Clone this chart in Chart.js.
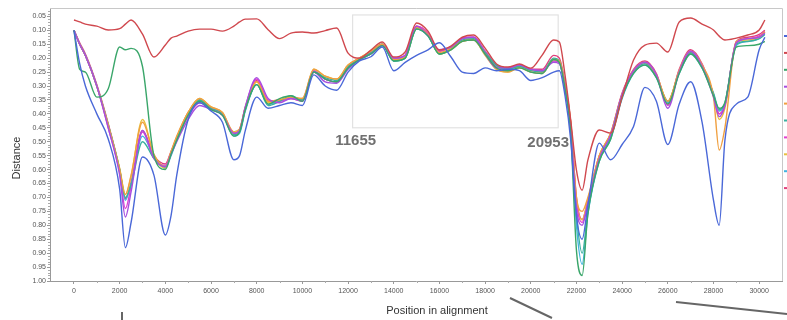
<!DOCTYPE html>
<html>
<head>
<meta charset="utf-8">
<script src="https://cdn.jsdelivr.net/npm/chart.js@4/dist/chart.umd.min.js"></script>
<style>
  body { margin: 0; background: #fff; }
  canvas { display: block; }
</style>
</head>
<body>
<canvas id="myChart" width="787" height="320"></canvas>
<script>
// positions along the alignment (x values shared by all series)
const positions = [0, 250, 500, 1000, 1500, 2000, 2250, 2500, 3000, 3500, 4000, 4250, 4500, 5000, 5500, 6000, 6500, 7000, 7250, 7500,
  8000, 8500, 9000, 9500, 10000, 10500, 11000, 11500, 12000, 12500, 13000, 13500, 14000, 14500, 15000, 15500, 16000, 16500, 17000, 17500,
  18000, 18500, 19000, 19500, 20000, 20500, 21000, 21250, 21500, 21750, 22000, 22250, 22500, 23000, 23500, 24000, 24500, 25000, 25500, 26000,
  26500, 27000, 27500, 28000, 28250, 28500, 29000, 29500, 30000, 30250];

const xTicks = [0, 2000, 4000, 6000, 8000, 10000, 12000, 14000, 16000, 18000, 20000, 22000, 24000, 26000, 28000, 30000];
const yTicks = [0.05, 0.10, 0.15, 0.20, 0.25, 0.30, 0.35, 0.40, 0.45, 0.50, 0.55, 0.60, 0.65, 0.70, 0.75, 0.80, 0.85, 0.90, 0.95, 1.00];

const seriesNames = ['blue', 'red', 'green', 'purple', 'orange', 'teal', 'magenta', 'yellow', 'cyan', 'pink'];
const seriesColors = ['#4a68d8', '#d0484e', '#3aa66a', '#a64ee0', '#f0a040', '#3ab0a0', '#e040d0', '#e8c040', '#40b4e0', '#e0407c'];

const blueVals = [0.10, 0.22, 0.30, 0.40, 0.49, 0.67, 0.88, 0.79, 0.555, 0.62, 0.835, 0.765, 0.62, 0.42, 0.36, 0.39, 0.43, 0.565, 0.55, 0.46,
  0.34, 0.38, 0.37, 0.36, 0.37, 0.26, 0.30, 0.315, 0.25, 0.21, 0.195, 0.16, 0.245, 0.215, 0.19, 0.17, 0.145, 0.195, 0.25, 0.255,
  0.235, 0.245, 0.24, 0.245, 0.28, 0.27, 0.25, 0.245, 0.335, 0.495, 0.765, 0.85, 0.73, 0.505, 0.565, 0.51, 0.445, 0.305, 0.355, 0.51,
  0.365, 0.285, 0.43, 0.71, 0.80, 0.495, 0.365, 0.34, 0.17, 0.125];
const redVals = [0.063, 0.07, 0.078, 0.085, 0.099, 0.094, 0.078, 0.063, 0.114, 0.196, 0.153, 0.128, 0.121, 0.103, 0.096, 0.096, 0.103, 0.085, 0.07, 0.06,
  0.059, 0.098, 0.13, 0.11, 0.106, 0.11, 0.101, 0.092, 0.182, 0.20, 0.171, 0.142, 0.196, 0.178, 0.074, 0.103, 0.171, 0.157, 0.125, 0.117,
  0.164, 0.221, 0.232, 0.221, 0.236, 0.189, 0.135, 0.142, 0.261, 0.423, 0.602, 0.674, 0.566, 0.458, 0.469, 0.34, 0.207, 0.153, 0.146, 0.178,
  0.07, 0.056, 0.078, 0.099, 0.121, 0.135, 0.128, 0.117, 0.099, 0.063];
const greenVals = [0.10, 0.24, 0.25, 0.34, 0.31, 0.16, 0.17, 0.165, 0.23, 0.55, 0.60, 0.545, 0.495, 0.405, 0.355, 0.385, 0.405, 0.48, 0.465, 0.385,
  0.295, 0.365, 0.345, 0.335, 0.355, 0.25, 0.275, 0.285, 0.235, 0.205, 0.185, 0.155, 0.21, 0.20, 0.095, 0.12, 0.185, 0.17, 0.14, 0.135,
  0.185, 0.235, 0.245, 0.235, 0.25, 0.255, 0.205, 0.215, 0.31, 0.47, 0.89, 0.98, 0.76, 0.57, 0.49, 0.34, 0.255, 0.225, 0.27, 0.365,
  0.255, 0.185, 0.235, 0.335, 0.38, 0.36, 0.16, 0.155, 0.15, 0.14];
const purpleVals = [0.10, 0.15, 0.19, 0.30, 0.45, 0.62, 0.77, 0.68, 0.46, 0.56, 0.59, 0.545, 0.50, 0.42, 0.37, 0.385, 0.405, 0.47, 0.46, 0.375,
  0.27, 0.345, 0.36, 0.345, 0.355, 0.25, 0.285, 0.29, 0.24, 0.205, 0.185, 0.155, 0.20, 0.19, 0.085, 0.12, 0.17, 0.16, 0.13, 0.125,
  0.185, 0.235, 0.235, 0.225, 0.24, 0.245, 0.215, 0.22, 0.31, 0.45, 0.74, 0.80, 0.72, 0.56, 0.475, 0.33, 0.245, 0.215, 0.26, 0.38,
  0.25, 0.175, 0.23, 0.34, 0.41, 0.37, 0.145, 0.13, 0.125, 0.11];
const orangeVals = [0.10, 0.15, 0.19, 0.30, 0.44, 0.60, 0.69, 0.62, 0.43, 0.545, 0.59, 0.535, 0.48, 0.395, 0.345, 0.375, 0.395, 0.47, 0.455, 0.38,
  0.285, 0.355, 0.35, 0.34, 0.345, 0.24, 0.265, 0.275, 0.225, 0.20, 0.175, 0.15, 0.205, 0.195, 0.09, 0.115, 0.18, 0.165, 0.14, 0.135,
  0.185, 0.24, 0.25, 0.235, 0.25, 0.255, 0.205, 0.21, 0.30, 0.43, 0.70, 0.75, 0.70, 0.55, 0.47, 0.33, 0.245, 0.215, 0.26, 0.355,
  0.245, 0.175, 0.225, 0.34, 0.53, 0.45, 0.14, 0.13, 0.125, 0.105];
const tealVals = [0.10, 0.15, 0.19, 0.30, 0.44, 0.60, 0.70, 0.655, 0.50, 0.56, 0.59, 0.545, 0.49, 0.40, 0.35, 0.38, 0.40, 0.475, 0.465, 0.385,
  0.295, 0.37, 0.355, 0.335, 0.35, 0.25, 0.27, 0.28, 0.23, 0.205, 0.18, 0.15, 0.21, 0.20, 0.095, 0.12, 0.185, 0.165, 0.135, 0.13,
  0.18, 0.225, 0.24, 0.23, 0.245, 0.25, 0.20, 0.21, 0.30, 0.45, 0.76, 0.90, 0.75, 0.565, 0.485, 0.34, 0.25, 0.22, 0.265, 0.355,
  0.25, 0.18, 0.23, 0.325, 0.385, 0.36, 0.15, 0.14, 0.13, 0.115];
const magentaVals = [0.10, 0.15, 0.19, 0.30, 0.45, 0.61, 0.74, 0.66, 0.465, 0.56, 0.585, 0.54, 0.49, 0.41, 0.36, 0.38, 0.40, 0.47, 0.46, 0.38,
  0.275, 0.35, 0.355, 0.345, 0.35, 0.245, 0.275, 0.285, 0.23, 0.20, 0.18, 0.15, 0.20, 0.19, 0.085, 0.11, 0.175, 0.16, 0.13, 0.125,
  0.175, 0.23, 0.24, 0.225, 0.24, 0.245, 0.21, 0.215, 0.305, 0.44, 0.72, 0.79, 0.72, 0.555, 0.475, 0.33, 0.245, 0.215, 0.26, 0.37,
  0.245, 0.175, 0.225, 0.335, 0.40, 0.37, 0.145, 0.13, 0.12, 0.105];
const yellowVals = [0.10, 0.15, 0.19, 0.30, 0.44, 0.595, 0.69, 0.625, 0.42, 0.55, 0.595, 0.54, 0.485, 0.395, 0.345, 0.375, 0.395, 0.465, 0.455, 0.38,
  0.285, 0.36, 0.35, 0.34, 0.345, 0.24, 0.265, 0.275, 0.225, 0.20, 0.175, 0.15, 0.205, 0.195, 0.09, 0.115, 0.185, 0.17, 0.14, 0.135,
  0.19, 0.24, 0.25, 0.235, 0.245, 0.25, 0.205, 0.21, 0.30, 0.43, 0.71, 0.78, 0.71, 0.55, 0.47, 0.33, 0.245, 0.215, 0.26, 0.355,
  0.245, 0.175, 0.225, 0.335, 0.42, 0.38, 0.145, 0.135, 0.125, 0.105];
const cyanVals = [0.10, 0.15, 0.19, 0.30, 0.44, 0.60, 0.71, 0.65, 0.48, 0.555, 0.595, 0.55, 0.495, 0.40, 0.35, 0.38, 0.40, 0.48, 0.47, 0.39,
  0.295, 0.365, 0.355, 0.34, 0.35, 0.25, 0.275, 0.285, 0.235, 0.205, 0.185, 0.155, 0.21, 0.20, 0.095, 0.12, 0.185, 0.17, 0.14, 0.135,
  0.185, 0.23, 0.24, 0.23, 0.25, 0.255, 0.205, 0.215, 0.31, 0.46, 0.80, 0.94, 0.76, 0.57, 0.49, 0.345, 0.255, 0.225, 0.27, 0.36,
  0.255, 0.185, 0.235, 0.33, 0.39, 0.365, 0.155, 0.14, 0.13, 0.115];
const pinkVals = [0.10, 0.145, 0.185, 0.295, 0.435, 0.60, 0.705, 0.645, 0.46, 0.55, 0.58, 0.535, 0.485, 0.395, 0.35, 0.38, 0.40, 0.465, 0.455, 0.375,
  0.28, 0.355, 0.35, 0.345, 0.355, 0.25, 0.275, 0.285, 0.23, 0.20, 0.18, 0.15, 0.205, 0.19, 0.085, 0.11, 0.175, 0.16, 0.13, 0.125,
  0.175, 0.225, 0.235, 0.225, 0.24, 0.24, 0.19, 0.20, 0.29, 0.43, 0.70, 0.78, 0.71, 0.55, 0.47, 0.325, 0.24, 0.21, 0.255, 0.365,
  0.24, 0.17, 0.22, 0.33, 0.40, 0.37, 0.14, 0.125, 0.115, 0.10];

const allVals = [blueVals, redVals, greenVals, purpleVals, orangeVals, tealVals, magentaVals, yellowVals, cyanVals, pinkVals];

// highlighted window and its labels
const boxStart = 12200, boxEnd = 21200, boxTop = 0.045, boxBottom = 0.45;
const boxLabels = ['11655', '20953'];

const datasets = allVals.map((vals, i) => ({
    label: seriesNames[i],
    data: vals.map((v, j) => ({ x: positions[j], y: v })),
    borderColor: seriesColors[i],
    borderWidth: 1.4,
    pointRadius: 0,
    cubicInterpolationMode: 'monotone',
    fill: false
}));

const extras = {
    id: 'extras',
    beforeDatasetsDraw(chart) {
        const { ctx, scales: { x, y } } = chart;
        ctx.save();
        ctx.strokeStyle = '#e2e2e2';
        ctx.lineWidth = 1.2;
        const l = x.getPixelForValue(boxStart), r = x.getPixelForValue(boxEnd);
        const t = y.getPixelForValue(boxTop), b = y.getPixelForValue(boxBottom);
        ctx.strokeRect(l, t, r - l, b - t);
        ctx.restore();
    },
    afterDraw(chart) {
        const { ctx, chartArea: a, scales: { x, y } } = chart;
        ctx.save();
        // frame top and right
        ctx.strokeStyle = '#c8c8c8';
        ctx.lineWidth = 1;
        ctx.beginPath();
        ctx.moveTo(a.left, a.top + 0.5);
        ctx.lineTo(a.right + 0.5, a.top + 0.5);
        ctx.lineTo(a.right + 0.5, a.bottom);
        ctx.stroke();
        // minor ticks
        ctx.strokeStyle = '#aaa';
        ctx.beginPath();
        for (let v = 1000; v < 31000; v += 2000) {
            const px = Math.round(x.getPixelForValue(v)) + 0.5;
            ctx.moveTo(px, a.bottom);
            ctx.lineTo(px, a.bottom + 2);
        }
        for (let k = 3; k <= 100; k++) {
            if (k % 5 === 0) continue;
            const py = Math.round(y.getPixelForValue(k / 100)) + 0.5;
            ctx.moveTo(a.left - 2, py);
            ctx.lineTo(a.left, py);
        }
        ctx.stroke();
        // window labels
        ctx.fillStyle = '#707070';
        ctx.font = 'bold 15px "Liberation Sans", Arial, sans-serif';
        ctx.textAlign = 'center';
        ctx.textBaseline = 'middle';
        ctx.fillText(boxLabels[0], x.getPixelForValue(boxStart) + 3, 141);
        ctx.fillText(boxLabels[1], x.getPixelForValue(boxEnd) - 10, 143);
        // axis titles
        ctx.fillStyle = '#333';
        ctx.font = '11px "Liberation Sans", Arial, sans-serif';
        ctx.fillText('Position in alignment', 437, 311);
        ctx.save();
        ctx.translate(17, 158);
        ctx.rotate(-Math.PI / 2);
        ctx.fillText('Distance', 0, 0);
        ctx.restore();
        // legend markers, cut off at the right edge
        chart.data.datasets.forEach((ds, i) => {
            ctx.strokeStyle = ds.borderColor;
            ctx.lineWidth = 2;
            ctx.beginPath();
            ctx.moveTo(784, 36 + i * 16.9);
            ctx.lineTo(790, 36 + i * 16.9);
            ctx.stroke();
        });
        // connector strokes from the surrounding figure
        ctx.strokeStyle = '#666';
        ctx.lineWidth = 2;
        ctx.beginPath();
        ctx.moveTo(122, 312); ctx.lineTo(122, 320);
        ctx.moveTo(510, 298); ctx.lineTo(552, 318);
        ctx.moveTo(676, 302); ctx.lineTo(787, 314);
        ctx.stroke();
        ctx.restore();
    }
};

const ctx = document.getElementById('myChart').getContext('2d');
const myChart = new Chart(ctx, {
    type: 'line',
    data: { datasets: datasets },
    options: {
        responsive: false,
        animation: false,
        devicePixelRatio: 1,
        layout: { padding: { top: 8, right: 5, left: 0, bottom: 0 } },
        plugins: { legend: { display: false }, tooltip: { enabled: false } },
        scales: {
            x: {
                type: 'linear',
                min: -1050,
                max: 31000,
                afterBuildTicks: s => { s.ticks = xTicks.map(v => ({ value: v })); },
                afterFit: s => { s.height = 39; },
                ticks: {
                    autoSkip: false,
                    maxRotation: 0,
                    padding: 3,
                    color: '#555',
                    font: { size: 7, family: 'Liberation Sans' },
                    callback: v => String(v)
                },
                grid: { drawOnChartArea: false, tickLength: 3, color: '#999' },
                border: { color: '#999' }
            },
            y: {
                reverse: true,
                min: 0.02,
                max: 1.0,
                afterBuildTicks: s => { s.ticks = yTicks.map(v => ({ value: v })); },
                afterFit: s => { s.width = 50; },
                ticks: {
                    autoSkip: false,
                    padding: 1,
                    color: '#555',
                    font: { size: 7, family: 'Liberation Sans' },
                    callback: v => v.toFixed(2)
                },
                grid: { drawOnChartArea: false, tickLength: 3, color: '#999' },
                border: { color: '#999' }
            }
        }
    },
    plugins: [extras]
});
</script>
</body>
</html>
